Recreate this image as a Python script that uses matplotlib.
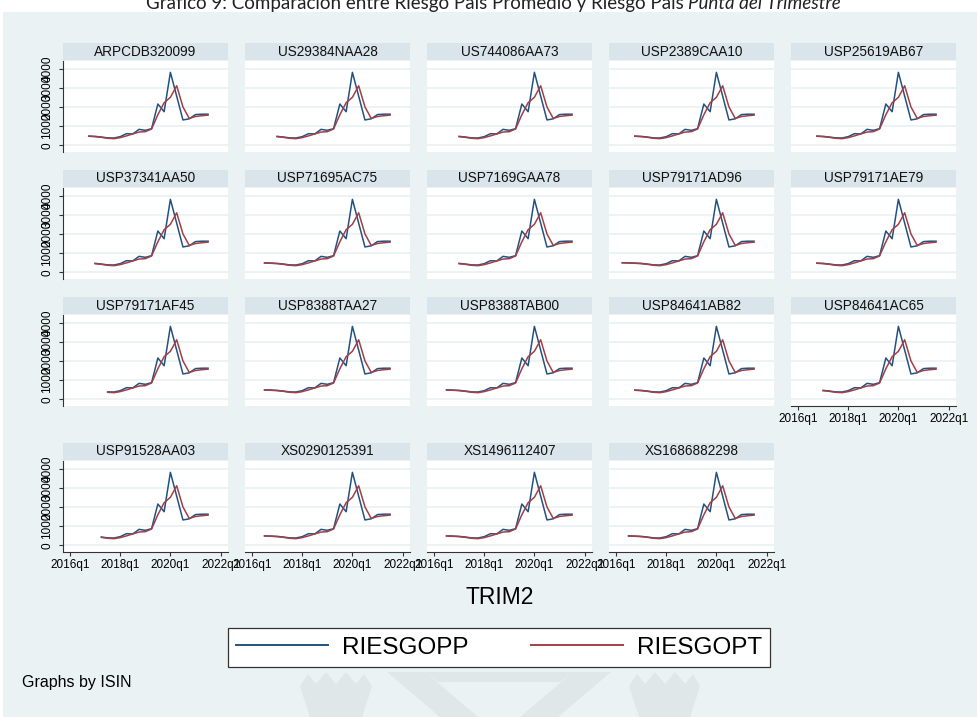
# %%
import matplotlib

matplotlib.use("Agg")
import matplotlib.pyplot as plt
from matplotlib.lines import Line2D
from matplotlib.patches import Polygon, Rectangle

# %% data (quarterly country risk, bps)
quarters = [
    "2016q1", "2016q2", "2016q3", "2016q4", "2017q1", "2017q2", "2017q3", "2017q4",
    "2018q1", "2018q2", "2018q3", "2018q4", "2019q1", "2019q2", "2019q3", "2019q4",
    "2020q1", "2020q2", "2020q3", "2020q4", "2021q1", "2021q2", "2021q3",
]
riesgo_pp = [
    520, 500, 490, 480, 465, 430, 385, 380, 450, 605, 590, 830,
    780, 865, 2150, 1750, 3800, 2560, 1320, 1380, 1600, 1620, 1620,
]
riesgo_pt = [
    510, 495, 485, 470, 450, 415, 365, 345, 400, 490, 590, 690,
    710, 850, 1590, 2220, 2500, 3100, 2000, 1400, 1500, 1540, 1570,
]
isins = [
    "ARPCDB320099", "US29384NAA28", "US744086AA73", "USP2389CAA10", "USP25619AB67",
    "USP37341AA50", "USP71695AC75", "USP7169GAA78", "USP79171AD96", "USP79171AE79",
    "USP79171AF45", "USP8388TAA27", "USP8388TAB00", "USP84641AB82", "USP84641AC65",
    "USP91528AA03", "XS0290125391", "XS1496112407", "XS1686882298",
]
first_quarter = [
    "2016q4", "2017q1", "2017q1", "2016q4", "2016q4",
    "2017q1", "2016q3", "2017q1", "2016q2", "2016q4",
    "2017q3", "2016q3", "2016q3", "2016q4", "2017q1",
    "2017q2", "2016q3", "2016q3", "2016q3",
]
x_ticks = ["2016q1", "2018q1", "2020q1", "2022q1"]
y_ticks = [0, 1000, 2000, 3000, 4000]


def qpos(label):
    return int(label[:4]) + (int(label[5]) - 1) / 4


W, H = 977, 717
BG = "#EAF2F3"
STRIP = "#D9E5EA"
BLUE = "#24527E"
RED = "#A23F47"
FONT = "Liberation Sans"

plt.rcParams["font.family"] = FONT

fig = plt.figure(figsize=(W / 100, H / 100), dpi=100)
fig.patch.set_facecolor("white")


def fx(x):
    return x / W


def fy(y):
    return 1 - y / H


fig.add_artist(Rectangle((fx(3), 0), 1 - fx(3), fy(12), transform=fig.transFigure,
                         facecolor=BG, edgecolor="none", zorder=-10))

# faint watermark at the bottom
wm = "#DFE7E9"
for pts in [
    [(387, 672), (425, 672), (478, 717), (440, 717)],
    [(611, 672), (573, 672), (520, 717), (558, 717)],
    [(425, 672), (573, 672), (560, 682), (438, 682)],
    [(300, 686), (308, 674), (316, 684), (326, 672), (336, 684), (346, 672),
     (356, 684), (364, 674), (372, 686), (362, 717), (310, 717)],
    [(629, 686), (637, 674), (645, 684), (655, 672), (665, 684), (675, 672),
     (685, 684), (693, 674), (700, 686), (690, 717), (639, 717)],
]:
    fig.add_artist(Polygon([(fx(a), fy(b)) for a, b in pts], closed=True,
                           transform=fig.transFigure, facecolor=wm,
                           edgecolor="none", zorder=-9))

x_all = [qpos(q) for q in quarters]
tick_pos = [qpos(q) for q in x_ticks]
n_cols = 5
pw, ph = 165, 91

for i, isin in enumerate(isins):
    r, c = divmod(i, n_cols)
    left = 63 + 182 * c
    top = 61 + 127 * r if r < 3 else 461
    ax = fig.add_axes([fx(left), fy(top + ph), pw / W, ph / H])
    ax.set_facecolor("white")

    # strip with the ISIN
    fig.add_artist(Rectangle((fx(left), fy(top - 1)), pw / W, 17 / H,
                             transform=fig.transFigure, facecolor=STRIP,
                             edgecolor="none", zorder=-5))
    fig.text(fx(left + pw / 2), fy(top - 9.5), isin, ha="center", va="center",
             fontsize=9.8, color="#111111")

    k0 = quarters.index(first_quarter[i])
    ax.plot(x_all[k0:], riesgo_pp[k0:], color=BLUE, lw=1.1)
    ax.plot(x_all[k0:], riesgo_pt[k0:], color=RED, lw=1.1)

    ax.set_xlim(2015.721, 2022.295)
    ax.set_ylim(-349, 4391)
    ax.set_yticks(y_ticks)
    ax.set_yticklabels([str(v) for v in y_ticks], rotation=90, va="center")
    ax.set_xticks(tick_pos)
    ax.set_xticklabels(x_ticks)
    ax.yaxis.grid(True, color=BG, lw=1.3)
    ax.set_axisbelow(True)
    for sp in ax.spines.values():
        sp.set_visible(False)

    show_y = c == 0
    show_x = r == 3 or (r == 2 and c == 4)
    ax.tick_params(axis="y", left=show_y, labelleft=show_y, length=3,
                   width=0.8, color="#333333", labelsize=8.5, pad=4)
    ax.tick_params(axis="x", bottom=show_x, labelbottom=show_x, length=3,
                   width=0.8, color="#333333", labelsize=8.5, pad=2)
    if show_y:
        ax.spines["left"].set_visible(True)
        ax.spines["left"].set_color("#333333")
        ax.spines["left"].set_linewidth(0.8)
    if show_x:
        ax.spines["bottom"].set_visible(True)
        ax.spines["bottom"].set_color("#333333")
        ax.spines["bottom"].set_linewidth(0.8)

# axis title, legend and note
fig.text(fx(500), fy(597), "TRIM2", ha="center", va="center", fontsize=16.5)

handles = [Line2D([], [], color=BLUE, lw=1.4), Line2D([], [], color=RED, lw=1.4)]
leg = fig.legend(handles, ["RIESGOPP", "RIESGOPT"], ncol=2, loc="center",
                 bbox_to_anchor=(fx(228), fy(668), 542 / W, 41 / H), mode="expand",
                 borderaxespad=0, fontsize=17.5, handlelength=3.8,
                 handletextpad=0.55, columnspacing=1.6, borderpad=0.33,
                 fancybox=False, framealpha=1)
leg.get_frame().set_edgecolor("#333333")
leg.get_frame().set_linewidth(0.9)

fig.text(fx(22), fy(683), "Graphs by ISIN", ha="left", va="center", fontsize=11.5)

# title, partially cut at the top as in the source document
renderer = fig.canvas.get_renderer()
tfont = dict(family=["Lato", "DejaVu Sans"], fontsize=13.5, color="#222222")
t1 = fig.text(0, fy(9), "Gráfico 9: Comparación entre Riesgo País Promedio y Riesgo País",
              va="baseline", **tfont)
t2 = fig.text(0, fy(9), "Punta del Trimestre", va="baseline", style="italic", **tfont)
w1 = t1.get_window_extent(renderer).width
w2 = t2.get_window_extent(renderer).width
gap = 4
x0 = 493 - (w1 + gap + w2) / 2
t1.set_x(fx(x0))
t2.set_x(fx(x0 + w1 + gap))

fig.savefig("out.png", dpi=100, facecolor=fig.get_facecolor())
